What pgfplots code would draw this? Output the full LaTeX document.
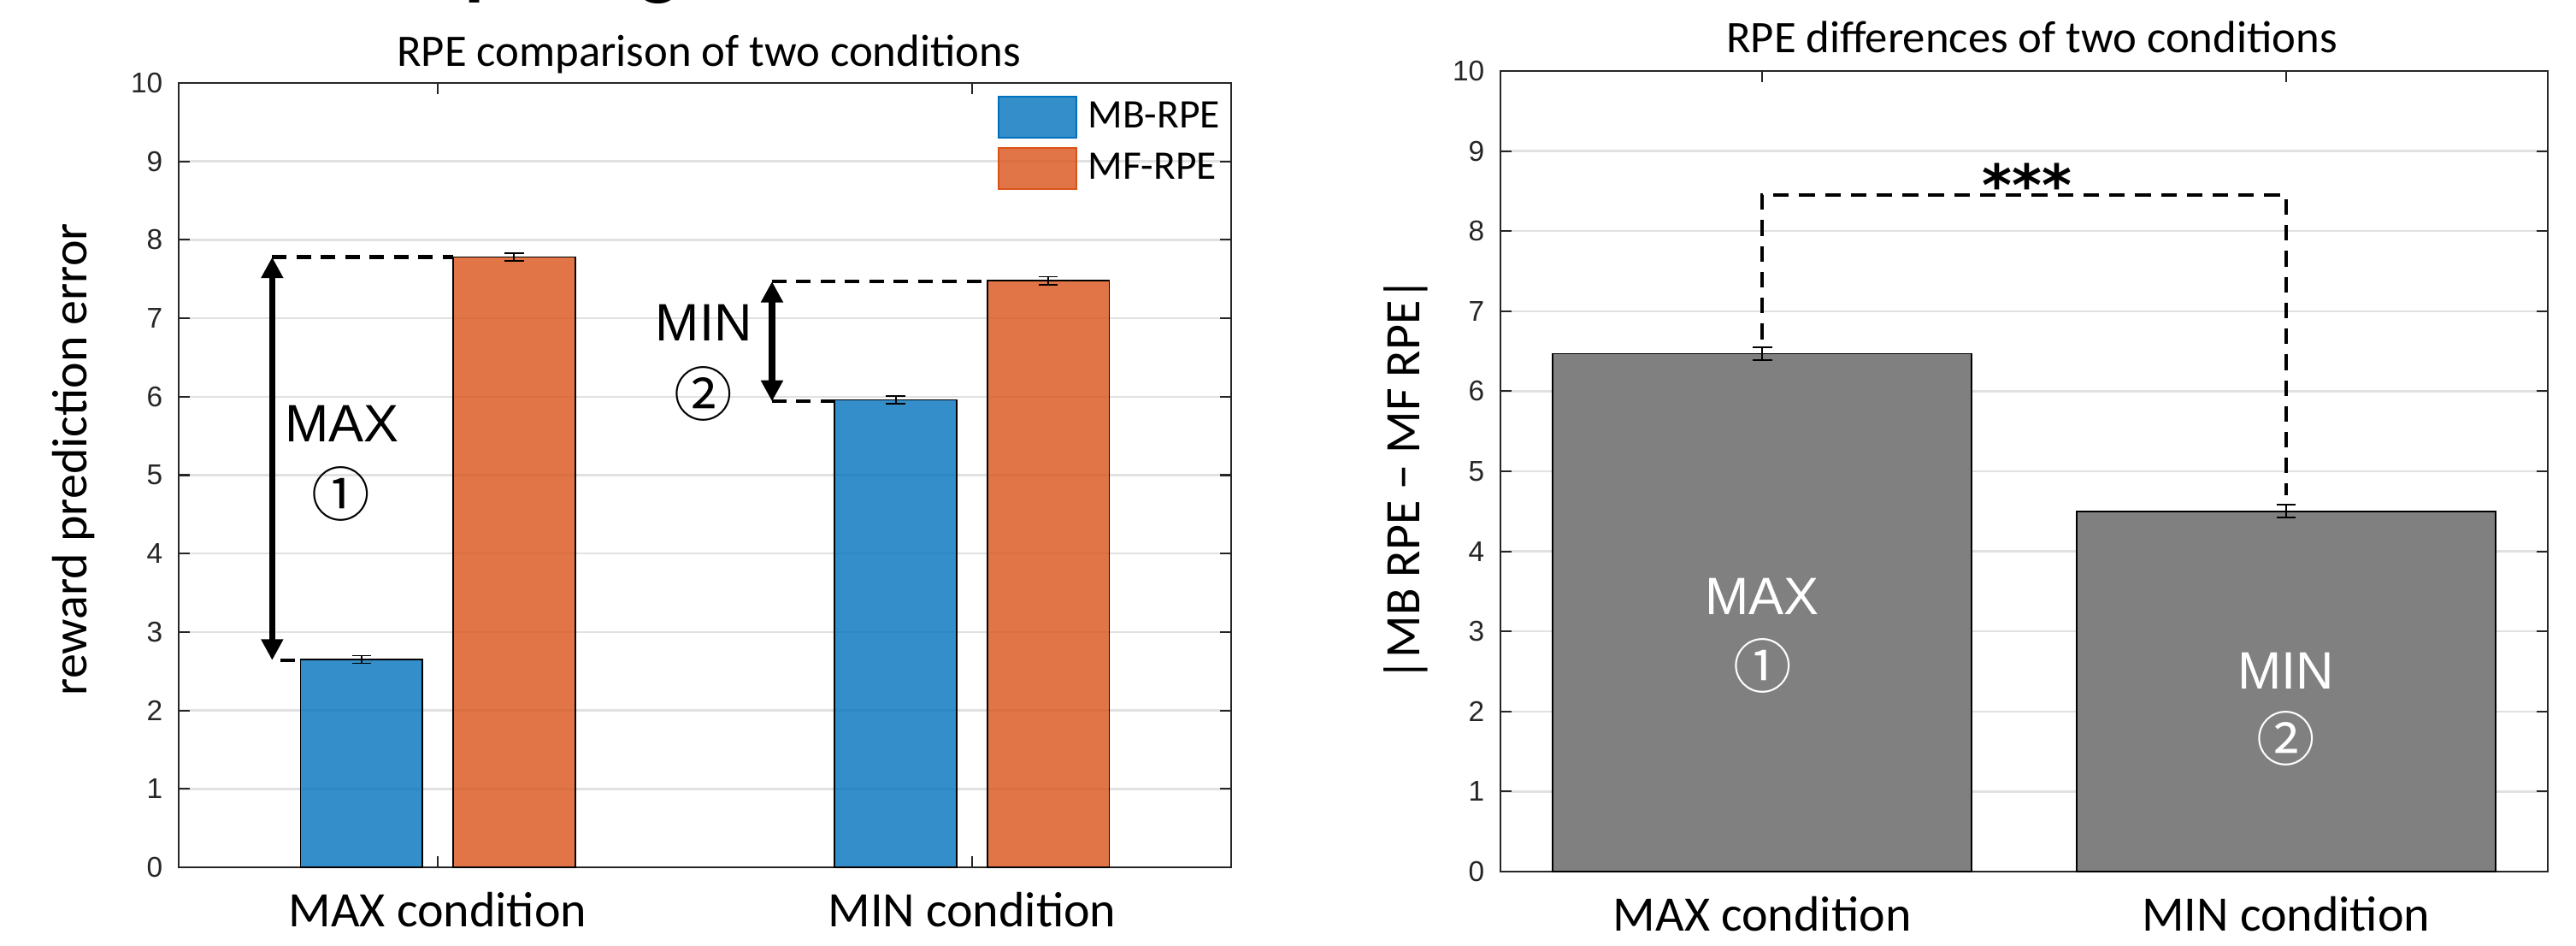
\documentclass[border=0pt]{standalone}
\usepackage{fontspec}
\setmainfont{Carlito}
\newfontfamily\arialf{Liberation Sans}
\newfontfamily\dejavu{DejaVu Sans}
\newfontfamily\cjk{Noto Sans CJK JP}
\usepackage{pgfplots}
\pgfplotsset{compat=1.18}
\usetikzlibrary{arrows.meta}

\definecolor{mbblue}{rgb}{0,0.447,0.741}
\definecolor{mforange}{rgb}{0.850,0.325,0.098}
\definecolor{axcol}{RGB}{38,38,38}
\definecolor{gridc}{RGB}{225,225,225}
\definecolor{barg}{RGB}{128,128,128}

\pgfplotsset{
 common/.style={
  scale only axis,
  axis line style={axcol, line width=0.6pt},
  ymin=0, ymax=10, ytick={0,1,...,10},
  xtick={1,2},
  xticklabels={MAX condition, MIN condition},
  tick align=inside,
  xtick pos=both, ytick pos=both,
  major tick length=0.13cm,
  every tick/.style={axcol, line width=0.6pt},
  ymajorgrids,
  grid style={gridc, line width=0.7pt},
  yticklabel style={font=\arialf\fontsize{9.5}{10}\selectfont, anchor=east, inner sep=0pt, xshift=-0.18cm, text=axcol},
  xticklabel style={font=\fontsize{16.5}{18}\selectfont, anchor=base, inner sep=0pt, yshift=-0.69cm},
  /pgf/number format/assume math mode=true,
  title style={font=\fontsize{15}{17}\selectfont, anchor=base, inner sep=0pt},
  ylabel style={font=\fontsize{16.5}{18}\selectfont, anchor=center, inner sep=0pt},
  clip=false,
 },
 ebar/.style={error bars/.cd, y dir=both, y explicit,
   error bar style={line width=0.5pt, black},
   error mark options={rotate=90, mark size=3.2pt, line width=0.5pt, black}},
}
\tikzset{
 dashl/.style={black, line width=1.2pt, dash pattern=on 4.8pt off 3.3pt},
 arr/.style={black, line width=2pt, {Triangle[width=7pt,length=7pt]}-{Triangle[width=7pt,length=7pt]}},
}

\begin{document}
\begin{tikzpicture}
\path[use as bounding box] (0,0) rectangle (30.13cm,11.05cm);
\node[anchor=base west, inner sep=0pt, font=\bfseries\fontsize{27}{30}\selectfont] at (3.64cm,11.16cm) {Comparing};

% ---------------- left axis ----------------
\begin{axis}[common,
  at={(2.09cm,0.91cm)}, anchor=south west,
  width=12.31cm, height=9.17cm,
  xmin=0.515, xmax=2.485,
  title={RPE comparison of two conditions},
  title style={at={(axis description cs:0.5037,1)}, yshift=0.19cm-6pt},
  ylabel={reward prediction error},
  ylabel style={at={(axis description cs:-0.0995,0.52)}},
  legend style={at={(axis description cs:0.9894,0.9836)}, anchor=north east,
    draw=none, fill=none, inner sep=0pt, outer sep=0pt,
    row sep=0.107cm, column sep=0.13cm,
    font=\fontsize{13.5}{15}\selectfont, cells={anchor=west}, nodes={inner sep=0pt}},
]
\addplot[ybar, bar width=0.2286, bar shift=0pt, fill=mbblue, fill opacity=0.8, draw=black, line width=0.5pt,
  legend image code/.code={\fill[mbblue, fill opacity=0.8] (0cm,-0.24cm) rectangle (0.91cm,0.24cm);},
  ebar] coordinates {(0.8572,2.65) +- (0,0.05) (1.8572,5.96) +- (0,0.05)};
\addlegendentry{MB-RPE}
\addplot[ybar, bar width=0.2286, bar shift=0pt, fill=mforange, fill opacity=0.8, draw=black, line width=0.5pt,
  legend image code/.code={\fill[mforange, fill opacity=0.8] (0cm,-0.24cm) rectangle (0.91cm,0.24cm);},
  ebar] coordinates {(1.1428,7.78) +- (0,0.05) (2.1428,7.48) +- (0,0.05)};
\addlegendentry{MF-RPE}

\draw[dashl] (axis cs:0.690,7.78) -- (axis cs:1.0285,7.78);
\draw[dashl] (axis cs:0.705,2.64) -- (axis cs:0.7429,2.64);
\draw[arr] (axis cs:0.690,2.64) -- (axis cs:0.690,7.78);
\node[font=\arialf\fontsize{17.5}{20}\selectfont, inner sep=0pt] at (axis cs:0.821,5.66) {MAX};
\node[font=\cjk\fontsize{19.5}{21}\selectfont, inner sep=0pt] at (axis cs:0.819,4.76) {①};

\draw[dashl] (axis cs:1.6256,7.47) -- (axis cs:2.0285,7.47);
\draw[dashl] (axis cs:1.6256,5.94) -- (axis cs:1.7429,5.94);
\draw[arr] (axis cs:1.6256,5.94) -- (axis cs:1.6256,7.47);
\node[font=\arialf\fontsize{17.5}{20}\selectfont, inner sep=0pt] at (axis cs:1.498,6.94) {MIN};
\node[font=\cjk\fontsize{19.5}{21}\selectfont, inner sep=0pt] at (axis cs:1.497,6.04) {②};
\end{axis}

% ---------------- right axis ----------------
\begin{axis}[common,
  at={(17.55cm,0.86cm)}, anchor=south west,
  width=12.25cm, height=9.36cm,
  xmin=0.5, xmax=2.5,
  title={RPE differences of two conditions},
  title style={at={(axis description cs:0.5074,1)}, yshift=0.21cm-6pt},
  ylabel={|MB RPE − MF RPE|},
  ylabel style={at={(axis description cs:-0.0905,0.49)}},
]
\addplot[ybar, bar width=0.8, bar shift=0pt, fill=barg, draw=black, line width=0.5pt, ebar]
  coordinates {(1,6.47) +- (0,0.08) (2,4.50) +- (0,0.08)};

\draw[black, line width=1.1pt, dash pattern=on 5.2pt off 3.4pt]
  (axis cs:1,6.65) -- (axis cs:1,8.45) -- (axis cs:2,8.45) -- (axis cs:2,4.70);
\node[anchor=base, inner sep=0pt, font=\dejavu\bfseries\fontsize{19}{21}\selectfont] at (axis cs:1.505,8.32) {***};

\node[text=white, font=\arialf\fontsize{17.5}{20}\selectfont, inner sep=0pt] at (axis cs:1,3.44) {MAX};
\node[text=white, font=\cjk\fontsize{19.5}{21}\selectfont, inner sep=0pt] at (axis cs:1,2.57) {①};
\node[text=white, font=\arialf\fontsize{17.5}{20}\selectfont, inner sep=0pt] at (axis cs:2,2.51) {MIN};
\node[text=white, font=\cjk\fontsize{19.5}{21}\selectfont, inner sep=0pt] at (axis cs:2,1.66) {②};
\end{axis}
\end{tikzpicture}
\end{document}
